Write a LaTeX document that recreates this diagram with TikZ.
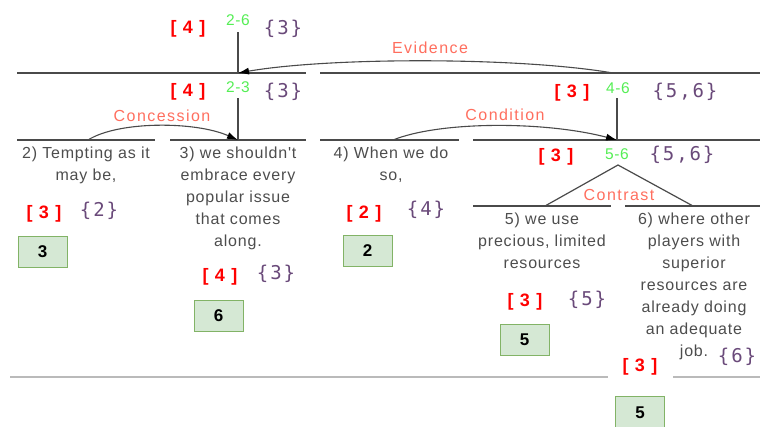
\documentclass[tikz,border=0pt]{standalone}
\usepackage{fontspec}
\setmainfont{Liberation Sans}
\newfontfamily\edufont[LetterSpace=5]{Liberation Sans}
\newfontfamily\relnamefont[LetterSpace=9]{Liberation Sans}
\newfontfamily\promfont[LetterSpace=8]{Liberation Sans}
\newfontfamily\idsfont[LetterSpace=4]{Liberation Sans}
\newfontfamily\membersfont[LetterSpace=10]{DejaVu Sans Mono}
\usetikzlibrary{arrows.meta}

\definecolor{linegray}{HTML}{4A4A4A}
\definecolor{edugray}{HTML}{4D4D4D}
\definecolor{relred}{HTML}{FF6E5E}
\definecolor{idsgreen}{HTML}{55EE55}
\definecolor{setpurple}{HTML}{6A4A7A}
\definecolor{rankfill}{HTML}{D5E8D4}
\definecolor{rankdraw}{HTML}{82B366}

\tikzset{
  spanline/.style={draw=linegray, line width=1.2pt},
  relarc/.style={draw=linegray, line width=1.1pt,
    -{Latex[length=11pt,width=7pt,black]}},
  edu/.style={align=center, text=edugray, inner sep=0pt, anchor=north,
    font=\edufont\fontsize{16}{22}\selectfont},
  relname/.style={text=relred, inner sep=0pt, font=\relnamefont\fontsize{16}{18}\selectfont},
  prom/.style={text=red, inner sep=0pt, font=\promfont\bfseries\fontsize{18}{20}\selectfont},
  ids/.style={text=idsgreen, inner sep=0pt, font=\idsfont\fontsize{15.5}{16}\selectfont},
  members/.style={text=setpurple, inner sep=0pt, font=\membersfont\fontsize{19}{20}\selectfont},
  rankbox/.style={draw=rankdraw, fill=rankfill, line width=1pt, minimum width=49pt,
    minimum height=31pt, inner sep=0pt, font=\bfseries\fontsize{17}{17}\selectfont}
}

\begin{document}
\begin{tikzpicture}[x=1pt,y=-1pt]
  \useasboundingbox (0,0) rectangle (760,426);
  \clip (0,0) rectangle (760,426);

  % span lines and junctions
  \path
    (17,73) coordinate (h1a) (306,73) coordinate (h1b)
    (320,73) coordinate (h1c) (760,73) coordinate (h1d)
    (17,140) coordinate (h2a) (155,140) coordinate (h2b)
    (170,140) coordinate (h2c) (306,140) coordinate (h2d)
    (320,140) coordinate (h2e) (459,140) coordinate (h2f)
    (473,140) coordinate (h2g) (760,140) coordinate (h2h)
    (473,206) coordinate (h3a) (611,206) coordinate (h3b)
    (625,206) coordinate (h3c) (760,206) coordinate (h3d)
    (238,32) coordinate (v26) (238,73) coordinate (n26)
    (238,98) coordinate (v23) (238,140) coordinate (n23)
    (617,98) coordinate (v46) (617,140) coordinate (n46)
    (618,165) coordinate (c56) (545,206) coordinate (f5) (693,206) coordinate (f6)
    (613,73) coordinate (ev) (88,140) coordinate (co) (393,140) coordinate (cd);

  % bottom separator
  \draw[draw=black!27, line width=1.2pt] (10,377) -- (760,377);

  % span labels
  \draw
    (188,29) node[prom] (p26){[ 4 ]}
    (238,20) node[ids] (r26){2-6}
    (283,29) node[members] (s26){\{3\}}
    (188,92) node[prom] (p23){[ 4 ]}
    (238,87) node[ids] (r23){2-3}
    (283,92) node[members] (s23){\{3\}}
    (572,93) node[prom] (p46){[ 3 ]}
    (618,88) node[ids] (r46){4-6}
    (685,92) node[members] (s46){\{5,6\}}
    (556,157) node[prom] (p56){[ 3 ]}
    (617,154) node[ids] (r56){5-6}
    (682,155) node[members] (s56){\{5,6\}};

  % relation names
  \draw
    (430,48) node[relname] (evidence){Evidence}
    (162,116) node[relname] (concession){Concession}
    (505,115) node[relname] (condition){Condition}
    (619,195) node[relname] (contrast){Contrast};

  % EDUs
  \draw
    (86,147) node[edu] (e2){2) Tempting as it\\may be,}
    (238,147) node[edu] (e3){3) we shouldn't\\embrace every\\popular issue\\that comes\\along.}
    (391,147) node[edu] (e4){4) When we do\\so,}
    (542,213) node[edu] (e5){5) we use\\precious, limited\\resources}
    (694,213) node[edu] (e6){6) where other\\players with\\superior\\resources are\\already doing\\an adequate\\job.};

  % promotion sets and ranks
  \draw
    (44,214) node[prom] (p2){[ 3 ]}
    (99,211) node[members] (s2){\{2\}}
    (42.5,251.5) node[rankbox] (b2){3}
    (220,277) node[prom] (p3){[ 4 ]}
    (276,274) node[members] (s3){\{3\}}
    (218.5,315.5) node[rankbox] (b3){6}
    (364,214) node[prom] (p4){[ 2 ]}
    (426,210) node[members] (s4){\{4\}}
    (367.5,251) node[rankbox] (b4){2}
    (525,302) node[prom] (p5){[ 3 ]}
    (587,300) node[members] (s5){\{5\}}
    (524.5,340) node[rankbox] (b5){5}
    (640,367) node[prom, fill=white, minimum width=65pt, minimum height=23pt] (p6){[ 3 ]}
    (737,357) node[members] (s6){\{6\}}
    (640,413) node[rankbox, minimum height=33pt] (b6){5};

  \begin{scope}[spanline]
    \draw (h1a) to (h1b);
    \draw (h1c) to (h1d);
    \draw (h2a) to (h2b);
    \draw (h2c) to (h2d);
    \draw (h2e) to (h2f);
    \draw (h2g) to (h2h);
    \draw (h3a) to (h3b);
    \draw (h3c) to (h3d);
    \draw (v26) to (n26);
    \draw (v23) to (n23);
    \draw (v46) to (n46);
    \draw (f5) to (c56) to (f6);
  \end{scope}

  \begin{scope}[relarc]
    \draw (ev) .. controls (520,57) and (330,57) .. (n26);
    \draw (co) .. controls (118,121) and (195,121) .. (n23);
    \draw (cd) .. controls (440,121) and (545,121) .. (n46);
  \end{scope}
\end{tikzpicture}
\end{document}
